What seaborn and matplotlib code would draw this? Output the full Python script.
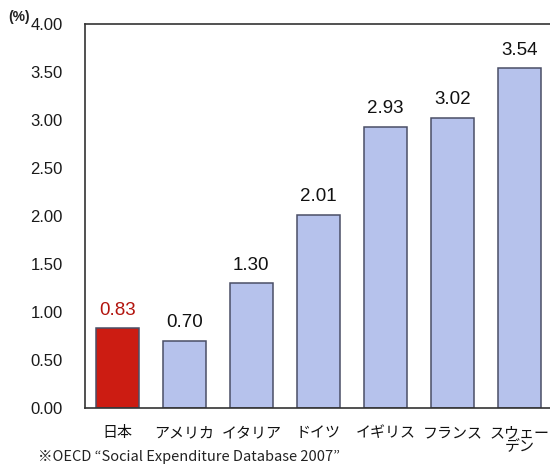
import matplotlib
matplotlib.use("Agg")
import matplotlib.pyplot as plt
import seaborn as sns
import pandas as pd

countries = ["日本", "アメリカ", "イタリア", "ドイツ", "イギリス", "フランス", "スウェー\nデン"]
values = [0.83, 0.70, 1.30, 2.01, 2.93, 3.02, 3.54]
value_labels = ["0.83", "0.70", "1.30", "2.01", "2.93", "3.02", "3.54"]
yticks = [0.0, 0.5, 1.0, 1.5, 2.0, 2.5, 3.0, 3.5, 4.0]
ytick_labels = ["0.00", "0.50", "1.00", "1.50", "2.00", "2.50", "3.00", "3.50", "4.00"]
footnote = "※OECD \u201cSocial Expenditure Database 2007\u201d"

sns.set_theme(style="white")
plt.rcParams['font.family'] = ['Liberation Sans', 'Noto Sans CJK JP', 'DejaVu Sans']

df = pd.DataFrame({"country": countries, "value": values})
colors = ["#cc1c12"] + ["#b6c2ec"] * (len(countries) - 1)

fig = plt.figure(figsize=(5.5, 4.65), dpi=100)
ax = fig.add_axes([0.1545, 0.1226, 1.003 - 0.1545, 0.948 - 0.1226])

sns.barplot(data=df, x="country", y="value", hue="country", palette=colors,
            legend=False, ax=ax, width=0.64, edgecolor="#4a4e66", linewidth=1.1,
            saturation=1)

ax.set_ylim(0, 4.0)
ax.set_xlim(-0.48, len(countries) - 0.52)
ax.set_yticks(yticks)
ax.set_yticklabels(ytick_labels, fontsize=12, color="#1a1a1a",
                   family=['Liberation Sans', 'DejaVu Sans'])
ax.set_xticks(range(len(countries)))
ax.set_xticklabels(countries, fontsize=10.8, color="#111111",
                   family=['Noto Sans CJK JP', 'DejaVu Sans'],
                   linespacing=1.05, va="top")
ax.set_xlabel("")
ax.set_ylabel("")

# tick marks between bars on the x-axis
ax.set_xticks([i + 0.5 for i in range(len(countries) - 1)], minor=True)
ax.tick_params(axis="x", which="major", length=0, pad=13)
ax.tick_params(axis="x", which="minor", direction="in", length=4, width=1, color="#333333")
ax.tick_params(axis="y", direction="in", length=4, width=1, color="#333333", pad=16)

for sp in ["left", "top", "bottom", "right"]:
    ax.spines[sp].set_visible(True)
    ax.spines[sp].set_color("#333333")
    ax.spines[sp].set_linewidth(1.2)

for i, (v, t) in enumerate(zip(values, value_labels)):
    ax.annotate(t, (i, v), xytext=(0, 7), textcoords="offset points",
                ha="center", va="bottom", fontsize=13.5,
                color="#b3150f" if i == 0 else "#111111",
                family=['Liberation Sans', 'DejaVu Sans'])

fig.text(8 / 550, 1 - 17 / 465, "(%)", fontsize=10, ha="left", va="center",
         fontweight="bold", color="#222222")
fig.text(38 / 550, 1 - 457 / 465, footnote, fontsize=10.5, ha="left", va="center",
         color="#222222", family=['Noto Sans CJK JP', 'DejaVu Sans'])

fig.savefig("out.png", dpi=100, facecolor="white")
